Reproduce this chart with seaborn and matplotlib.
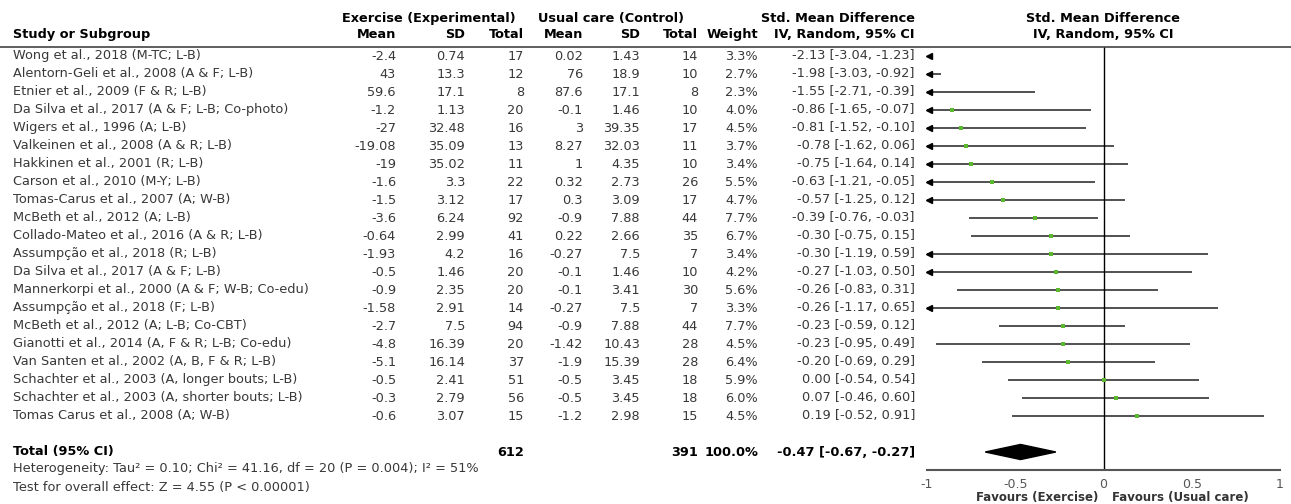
import numpy as np
import pandas as pd
import matplotlib.pyplot as plt
import seaborn as sns
from matplotlib.patches import Polygon
from matplotlib.lines import Line2D
from matplotlib.transforms import blended_transform_factory

studies = [
    "Wong et al., 2018 (M-TC; L-B)",
    "Alentorn-Geli et al., 2008 (A & F; L-B)",
    "Etnier et al., 2009 (F & R; L-B)",
    "Da Silva et al., 2017 (A & F; L-B; Co-photo)",
    "Wigers et al., 1996 (A; L-B)",
    "Valkeinen et al., 2008 (A & R; L-B)",
    "Hakkinen et al., 2001 (R; L-B)",
    "Carson et al., 2010 (M-Y; L-B)",
    "Tomas-Carus et al., 2007 (A; W-B)",
    "McBeth et al., 2012 (A; L-B)",
    "Collado-Mateo et al., 2016 (A & R; L-B)",
    "Assumpção et al., 2018 (R; L-B)",
    "Da Silva et al., 2017 (A & F; L-B)",
    "Mannerkorpi et al., 2000 (A & F; W-B; Co-edu)",
    "Assumpção et al., 2018 (F; L-B)",
    "McBeth et al., 2012 (A; L-B; Co-CBT)",
    "Gianotti et al., 2014 (A, F & R; L-B; Co-edu)",
    "Van Santen et al., 2002 (A, B, F & R; L-B)",
    "Schachter et al., 2003 (A, longer bouts; L-B)",
    "Schachter et al., 2003 (A, shorter bouts; L-B)",
    "Tomas Carus et al., 2008 (A; W-B)",
]
exp_mean = [-2.4, 43, 59.6, -1.2, -27, -19.08, -19, -1.6, -1.5, -3.6, -0.64,
            -1.93, -0.5, -0.9, -1.58, -2.7, -4.8, -5.1, -0.5, -0.3, -0.6]
exp_sd = [0.74, 13.3, 17.1, 1.13, 32.48, 35.09, 35.02, 3.3, 3.12, 6.24, 2.99,
          4.2, 1.46, 2.35, 2.91, 7.5, 16.39, 16.14, 2.41, 2.79, 3.07]
exp_n = [17, 12, 8, 20, 16, 13, 11, 22, 17, 92, 41, 16, 20, 20, 14, 94, 20, 37, 51, 56, 15]
ctrl_mean = [0.02, 76, 87.6, -0.1, 3, 8.27, 1, 0.32, 0.3, -0.9, 0.22,
             -0.27, -0.1, -0.1, -0.27, -0.9, -1.42, -1.9, -0.5, -0.5, -1.2]
ctrl_sd = [1.43, 18.9, 17.1, 1.46, 39.35, 32.03, 4.35, 2.73, 3.09, 7.88, 2.66,
           7.5, 1.46, 3.41, 7.5, 7.88, 10.43, 15.39, 3.45, 3.45, 2.98]
ctrl_n = [14, 10, 8, 10, 17, 11, 10, 26, 17, 44, 35, 7, 10, 30, 7, 44, 28, 28, 18, 18, 15]
weight = [3.3, 2.7, 2.3, 4.0, 4.5, 3.7, 3.4, 5.5, 4.7, 7.7, 6.7, 3.4, 4.2, 5.6,
          3.3, 7.7, 4.5, 6.4, 5.9, 6.0, 4.5]
smd = [-2.13, -1.98, -1.55, -0.86, -0.81, -0.78, -0.75, -0.63, -0.57, -0.39, -0.30,
       -0.30, -0.27, -0.26, -0.26, -0.23, -0.23, -0.20, 0.00, 0.07, 0.19]
ci_lo = [-3.04, -3.03, -2.71, -1.65, -1.52, -1.62, -1.64, -1.21, -1.25, -0.76, -0.75,
         -1.19, -1.03, -0.83, -1.17, -0.59, -0.95, -0.69, -0.54, -0.46, -0.52]
ci_hi = [-1.23, -0.92, -0.39, -0.07, -0.10, 0.06, 0.14, -0.05, 0.12, -0.03, 0.15,
         0.59, 0.50, 0.31, 0.65, 0.12, 0.49, 0.29, 0.54, 0.60, 0.91]
total_exp_n = 612
total_ctrl_n = 391
total_smd, total_lo, total_hi = -0.47, -0.67, -0.27
xticks = [-1, -0.5, 0, 0.5, 1]
xticklabels = ["-1", "-0.5", "0", "0.5", "1"]

sns.set_style("white")
plt.rcParams['font.family'] = ['DejaVu Sans']
fs = 9.3
txt = '#383838'
W, H = 1291, 504

fig = plt.figure(figsize=(W / 100, H / 100), dpi=100)
ax = fig.add_axes([927 / W, 1 - 470 / H, 353 / W, (470 - 47) / H])
rows = np.arange(len(studies))
ax.set_xlim(-1, 1)
ax.set_ylim(23.0, -0.5)

# confidence intervals, clipped to the axis with an arrow where they run off
lo = np.array(ci_lo)
hi = np.array(ci_hi)
vis = hi > -1
ax.hlines(rows[vis], np.clip(lo[vis], -1, 1), np.clip(hi[vis], -1, 1),
          color='#2a2a2a', lw=1.15)
arr = lo < -1
ax.plot(np.full(arr.sum(), -0.99), rows[arr], ls='none', marker='<', ms=5,
        color='black', clip_on=False)

df = pd.DataFrame({'smd': smd, 'row': rows})
sns.scatterplot(data=df[df.smd >= -1], x='smd', y='row', marker='s', s=10,
                color='#5cb82e', linewidth=0, ax=ax, zorder=3)
ax.set_xlabel('')
ax.set_ylabel('')

# pooled diamond
y_tot = 22.0
h = 0.42
ax.add_patch(Polygon([(total_lo, y_tot), (total_smd, y_tot - h), (total_hi, y_tot),
                      (total_smd, y_tot + h)], closed=True, color='black', clip_on=False))
ax.axvline(0, color='black', lw=1)

for s in ['left', 'right', 'top']:
    ax.spines[s].set_visible(False)
ax.spines['bottom'].set_color('#555555')
ax.spines['bottom'].set_linewidth(1.5)
ax.set_yticks([])
ax.set_xticks(xticks)
ax.set_xticklabels(xticklabels)
ax.tick_params(axis='x', direction='inout', length=9, width=1, color='#555555',
               labelcolor='#555555', labelsize=9, pad=1)

ax.text(-0.03, 24.5, "Favours (Exercise)", ha='right', va='center', fontsize=8.5,
        fontweight='bold', color='#333333', clip_on=False)
ax.text(0.05, 24.5, "Favours (Usual care)", ha='left', va='center', fontsize=8.5,
        fontweight='bold', color='#333333', clip_on=False)

tr = blended_transform_factory(fig.transFigure, ax.transData)
fig.add_artist(Line2D([0, 1], [-0.5, -0.5], transform=tr, color='#444444', lw=1.2))


def put(px, y, s, ha='right', bold=False, color=txt):
    fig.text(px / W, y, s, transform=tr, ha=ha, va='center', fontsize=fs,
             fontweight='bold' if bold else 'normal', color=color if not bold else 'black')


# headers
y1, y2 = -2.11, -1.22
put(429, y1, "Exercise (Experimental)", ha='center', bold=True)
put(611, y1, "Usual care (Control)", ha='center', bold=True)
put(838, y1, "Std. Mean Difference", ha='center', bold=True)
put(1103, y1, "Std. Mean Difference", ha='center', bold=True)
put(13, y2, "Study or Subgroup", ha='left', bold=True)
cols = [396, 465, 524, 583, 640, 698, 758]
for c, name in zip(cols, ["Mean", "SD", "Total", "Mean", "SD", "Total", "Weight"]):
    put(c, y2, name, bold=True)
put(915, y2, "IV, Random, 95% CI", bold=True)
put(1103, y2, "IV, Random, 95% CI", ha='center', bold=True)

for i in rows:
    put(13, i, studies[i], ha='left')
    put(cols[0], i, f"{exp_mean[i]:g}")
    put(cols[1], i, f"{exp_sd[i]:g}")
    put(cols[2], i, f"{exp_n[i]}")
    put(cols[3], i, f"{ctrl_mean[i]:g}")
    put(cols[4], i, f"{ctrl_sd[i]:g}")
    put(cols[5], i, f"{ctrl_n[i]}")
    put(cols[6], i, f"{weight[i]:.1f}%")
    put(915, i, f"{smd[i]:.2f} [{ci_lo[i]:.2f}, {ci_hi[i]:.2f}]")

put(13, y_tot, "Total (95% CI)", ha='left', bold=True)
put(cols[2], y_tot, f"{total_exp_n}", bold=True)
put(cols[5], y_tot, f"{total_ctrl_n}", bold=True)
put(cols[6], y_tot, "100.0%", bold=True)
put(915, y_tot, f"{total_smd:.2f} [{total_lo:.2f}, {total_hi:.2f}]", bold=True)
put(13, 22.9, "Heterogeneity: Tau² = 0.10; Chi² = 41.16, df = 20 (P = 0.004); I² = 51%", ha='left')
put(13, 24.0, "Test for overall effect: Z = 4.55 (P < 0.00001)", ha='left')

fig.savefig('out.png', dpi=100)
